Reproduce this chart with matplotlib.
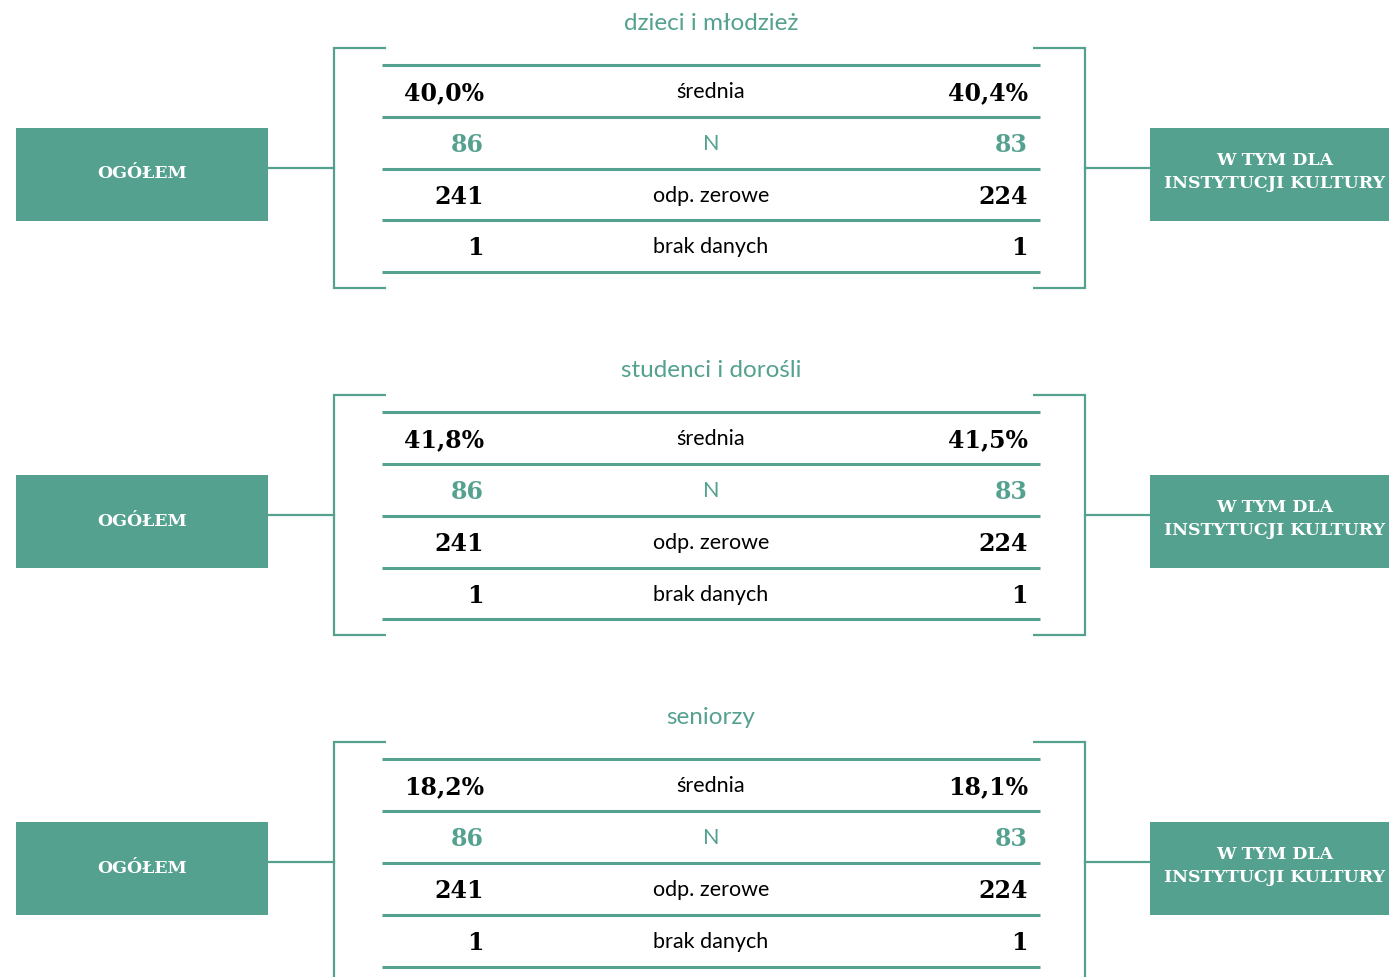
import matplotlib.pyplot as plt
from matplotlib.patches import Rectangle

# data
groups = ['dzieci i młodzież', 'studenci i dorośli', 'seniorzy']
row_labels = ['średnia', 'N', 'odp. zerowe', 'brak danych']
total_values = [
    ['40,0%', '86', '241', '1'],
    ['41,8%', '86', '241', '1'],
    ['18,2%', '86', '241', '1'],
]
culture_values = [
    ['40,4%', '83', '224', '1'],
    ['41,5%', '83', '224', '1'],
    ['18,1%', '83', '224', '1'],
]
left_box_label = 'OGÓŁEM'
right_box_label = 'W TYM DLA\nINSTYTUCJI KULTURY'

TEAL = '#55a190'
W, H = 1389, 977

fig = plt.figure(figsize=(W / 100, H / 100), dpi=100)
ax = fig.add_axes([0, 0, 1, 1])
ax.set_xlim(0, W)
ax.set_ylim(H, 0)
ax.axis('off')

sans = ['Lato', 'DejaVu Sans']
serif = ['DejaVu Serif']

panel_step = 347.2
for g, name in enumerate(groups):
    y0 = g * panel_step
    ax.text(711, y0 + 23, name, ha='center', va='center', color=TEAL,
            fontsize=17.5, family=sans)

    # brackets
    top, bot = y0 + 48, y0 + 288
    ax.plot([386, 334, 334, 386], [top, top, bot, bot], color=TEAL, lw=1.6,
            solid_capstyle='butt', solid_joinstyle='miter')
    ax.plot([1033, 1085, 1085, 1033], [top, top, bot, bot], color=TEAL, lw=1.6,
            solid_capstyle='butt', solid_joinstyle='miter')

    # table rules
    for k in range(5):
        yy = y0 + 65 + k * 51.8
        ax.plot([382, 1040], [yy, yy], color=TEAL, lw=2.2, solid_capstyle='butt')

    # rows
    for r, lab in enumerate(row_labels):
        yy = y0 + 92 + r * 51.8
        col = TEAL if lab == 'N' else 'black'
        ax.text(711, yy, lab, ha='center', va='center', color=col,
                fontsize=15.5, family=sans)
        ax.text(484, yy + 1, total_values[g][r], ha='right', va='center',
                color=col, fontsize=17, fontweight='bold', family=serif)
        ax.text(1028, yy + 1, culture_values[g][r], ha='right', va='center',
                color=col, fontsize=17, fontweight='bold', family=serif)

    # side boxes and connectors
    cy = y0 + 168
    ax.plot([268, 334], [cy, cy], color=TEAL, lw=1.6)
    ax.plot([1085, 1150], [cy, cy], color=TEAL, lw=1.6)
    ax.add_patch(Rectangle((16, y0 + 128), 252, 93, color=TEAL, lw=0))
    ax.add_patch(Rectangle((1150, y0 + 128), 260, 93, color=TEAL, lw=0))
    ax.text(142, y0 + 174, left_box_label, ha='center', va='center',
            color='white', fontsize=12.5, fontweight='bold', family=serif)
    ax.text(1275, y0 + 172, right_box_label, ha='center', va='center',
            color='white', fontsize=12.5, fontweight='bold', family=serif,
            linespacing=1.45, clip_on=True)

fig.savefig('out.png', dpi=100)
